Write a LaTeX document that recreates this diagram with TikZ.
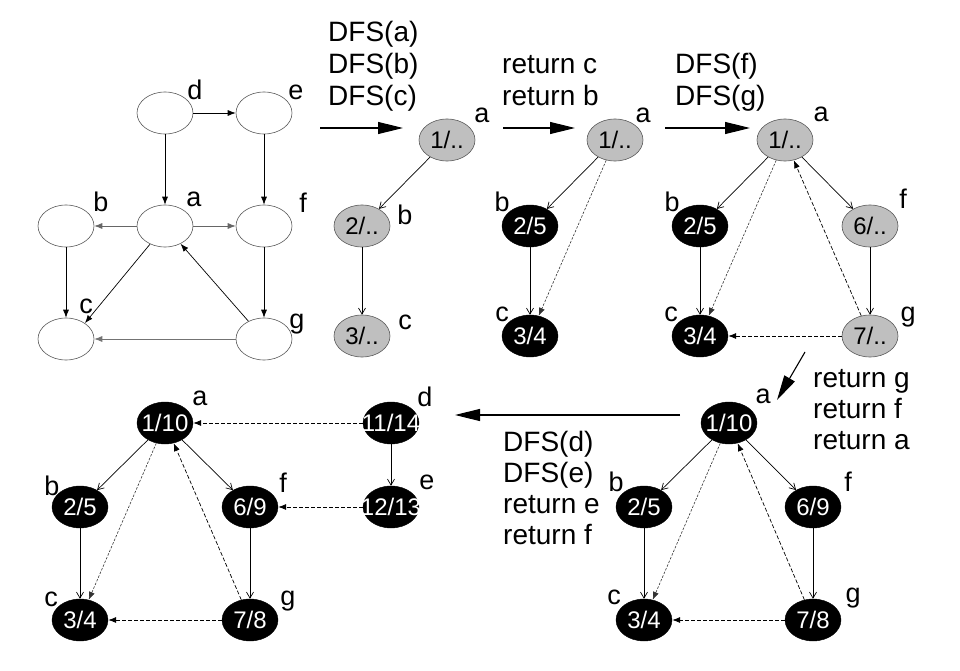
\documentclass[tikz,border=0pt]{standalone}
\usepackage{fontspec}
\setmainfont{Liberation Sans}
\usetikzlibrary{arrows.meta,shapes.geometric}
\begin{document}
\begin{tikzpicture}[x=1pt,y=-1pt,
  nd/.style={ellipse,minimum width=56pt,minimum height=42pt,inner sep=0pt,font=\fontsize{24}{24}\selectfont},
  wnode/.style={nd,draw=black!65,line width=0.6pt,fill=white},
  gnode/.style={nd,draw=black!65,line width=0.6pt,fill=gray!50},
  bnode/.style={nd,draw=black,fill=black,text=white},
  lbl/.style={font=\fontsize{27}{27}\selectfont,inner sep=0pt},
  txt/.style={font=\fontsize{28}{28}\selectfont,inner sep=0pt,anchor=base west},
  plain/.style={draw,line width=0.7pt,-{Latex[length=8pt,width=6pt]}},
  tree/.style={draw,line width=0.7pt,-{Straight Barb[length=6pt,width=7pt]}},
  back/.style={draw,line width=0.7pt,dash pattern=on 4pt off 2pt,-{Latex[length=8pt,width=6pt]}},
  fwd/.style={draw,line width=0.6pt,black!80,dash pattern=on 2.5pt off 1.5pt,-{Latex[length=8pt,width=6pt]}},
  bigarrow/.style={draw,line width=1.1pt,-{Triangle[length=25pt,width=12pt]}},
]
\useasboundingbox (0,0) rectangle (960,671);

% ---------- Panel 1 ----------
\node[wnode] (d1) at (165,113) {};
\node[wnode] (e1) at (264,113) {};
\node[wnode] (b1) at (66,226) {};
\node[wnode] (a1) at (165,226) {};
\node[wnode] (f1) at (264,226) {};
\node[wnode] (c1) at (66,339) {};
\node[wnode] (g1) at (264,339) {};
\node[lbl] at (195,90) {d};
\node[lbl] at (296,92) {e};
\node[lbl] at (194,199) {a};
\node[lbl] at (101,202) {b};
\node[lbl] at (303,203) {f};
\node[lbl] at (86,306) {c};
\node[lbl] at (297,324) {g};
\path[plain] (d1) -- (e1);
\path[plain] (d1) -- (a1);
\path[plain] (e1) -- (f1);
\path[plain,draw=black!60] (a1) -- (b1);
\path[plain,draw=black!60] (a1) -- (f1);
\path[plain] (a1) -- (c1.40);
\path[plain] (b1) -- (c1);
\path[plain] (f1) -- (g1);
\path[plain] (g1) -- (a1);
\path[plain,draw=black!55] (g1) -- (c1);

% ---------- Panel 2 ----------
\node[gnode] (a2) at (447,140) {\makebox[0pt]{1/..}};
\node[gnode] (b2) at (362,226) {\makebox[0pt]{2/..}};
\node[gnode] (c2) at (362,336) {\makebox[0pt]{3/..}};
\node[lbl] at (482,115) {a};
\node[lbl] at (405,215) {b};
\node[lbl] at (405,322) {c};
\path[tree] (a2) -- (b2);
\path[tree] (b2) -- (c2);

% ---------- Panel 3 ----------
\node[gnode] (a3) at (615,140) {\makebox[0pt]{1/..}};
\node[bnode] (b3) at (530,226) {\makebox[0pt]{2/5}};
\node[bnode] (c3) at (530,336) {\makebox[0pt]{3/4}};
\node[lbl] at (643,115) {a};
\node[lbl] at (502,202) {b};
\node[lbl] at (502,314) {c};
\path[tree] (a3) -- (b3);
\path[tree] (b3) -- (c3);
\path[fwd] (a3) -- (c3);

% ---------- Panel 4 ----------
\node[gnode] (a4) at (785,140) {\makebox[0pt]{1/..}};
\node[bnode] (b4) at (700,226) {\makebox[0pt]{2/5}};
\node[bnode] (c4) at (700,336) {\makebox[0pt]{3/4}};
\node[gnode] (f4) at (870,226) {\makebox[0pt]{6/..}};
\node[gnode] (g4) at (870,336) {\makebox[0pt]{7/..}};
\node[lbl] at (821,114) {a};
\node[lbl] at (672,202) {b};
\node[lbl] at (671,314) {c};
\node[lbl] at (903,199) {f};
\node[lbl] at (908,317) {g};
\path[tree] (a4) -- (b4);
\path[tree] (b4) -- (c4);
\path[tree] (a4) -- (f4);
\path[tree] (f4) -- (g4);
\path[fwd] (a4) -- (c4);
\path[back] (g4) -- (a4);
\path[back] (g4) -- (c4);

% ---------- Bottom right ----------
\node[bnode] (a5) at (729,423) {\makebox[0pt]{1/10}};
\node[bnode] (b5) at (644,507) {\makebox[0pt]{2/5}};
\node[bnode] (c5) at (644,620) {\makebox[0pt]{3/4}};
\node[bnode] (f5) at (813,507) {\makebox[0pt]{6/9}};
\node[bnode] (g5) at (813,620) {\makebox[0pt]{7/8}};
\node[lbl] at (763,396) {a};
\node[lbl] at (616,482) {b};
\node[lbl] at (614,597) {c};
\node[lbl] at (848,482) {f};
\node[lbl] at (853,598) {g};
\path[tree] (a5) -- (b5);
\path[tree] (b5) -- (c5);
\path[tree] (a5) -- (f5);
\path[tree] (f5) -- (g5);
\path[fwd] (a5) -- (c5);
\path[back] (g5) -- (a5);
\path[back] (g5) -- (c5);

% ---------- Bottom left ----------
\node[bnode] (a6) at (165,423) {\makebox[0pt]{1/10}};
\node[bnode] (b6) at (80,507) {\makebox[0pt]{2/5}};
\node[bnode] (c6) at (80,620) {\makebox[0pt]{3/4}};
\node[bnode] (f6) at (250,507) {\makebox[0pt]{6/9}};
\node[bnode] (g6) at (250,620) {\makebox[0pt]{7/8}};
\node[bnode] (d6) at (391,423) {\makebox[0pt]{11/14}};
\node[bnode] (e6) at (391,507) {\makebox[0pt]{12/13}};
\node[lbl] at (200,398) {a};
\node[lbl] at (52,486) {b};
\node[lbl] at (51,599) {c};
\node[lbl] at (283,483) {f};
\node[lbl] at (288,601) {g};
\node[lbl] at (425,397) {d};
\node[lbl] at (427,482) {e};
\path[tree] (a6) -- (b6);
\path[tree] (b6) -- (c6);
\path[tree] (a6) -- (f6);
\path[tree] (f6) -- (g6);
\path[fwd] (a6) -- (c6);
\path[back] (g6) -- (a6);
\path[back] (g6) -- (c6);
\path[back] (d6) -- (a6);
\path[tree] (d6) -- (e6);
\path[back] (e6) -- (f6);

% ---------- Transition arrows ----------
\coordinate (s1) at (320,128); \coordinate (t1) at (403,128);
\coordinate (s2) at (503,128); \coordinate (t2) at (575,128);
\coordinate (s3) at (665,128); \coordinate (t3) at (750,128);
\coordinate (s4) at (805,352); \coordinate (t4) at (777,400);
\coordinate (s5) at (680,415); \coordinate (t5) at (455,415);
\path[bigarrow] (s1) -- (t1);
\path[bigarrow] (s2) -- (t2);
\path[bigarrow] (s3) -- (t3);
\path[bigarrow] (s4) -- (t4);
\path[bigarrow] (s5) -- (t5);

% ---------- Texts ----------
\node[txt] (x1a) at (328,42) {DFS(a)};
\node[txt] (x1b) at (328,74) {DFS(b)};
\node[txt] (x1c) at (328,106) {DFS(c)};
\node[txt] (x2a) at (502,74) {return c};
\node[txt] (x2b) at (502,106) {return b};
\node[txt] (x3a) at (675,74) {DFS(f)};
\node[txt] (x3b) at (675,106) {DFS(g)};
\node[txt] (x4a) at (813,387) {return g};
\node[txt] (x4b) at (813,418) {return f};
\node[txt] (x4c) at (813,449) {return a};
\node[txt] (x5a) at (503,451) {DFS(d)};
\node[txt] (x5b) at (503,482) {DFS(e)};
\node[txt] (x5c) at (503,513) {return e};
\node[txt] (x5d) at (503,544) {return f};
\end{tikzpicture}
\end{document}
